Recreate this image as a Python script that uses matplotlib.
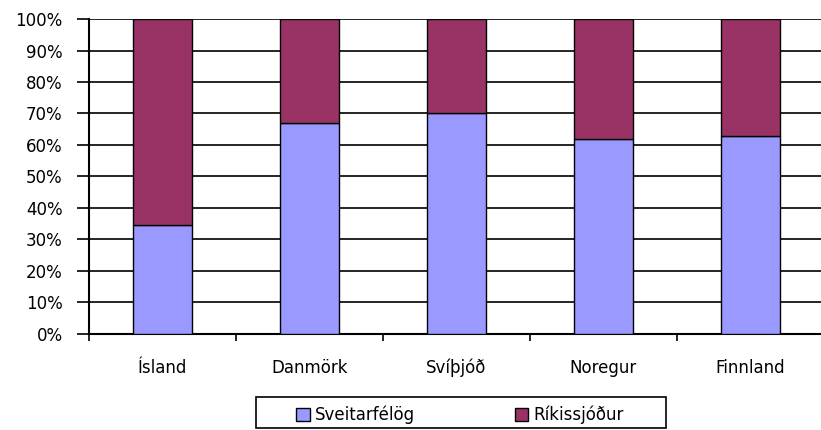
import matplotlib
matplotlib.use("Agg")
import matplotlib.pyplot as plt
from matplotlib.patches import Rectangle
import numpy as np
from matplotlib.ticker import MultipleLocator, FuncFormatter

countries = ["Ísland", "Danmörk", "Svíþjóð", "Noregur", "Finnland"]
sveitarfelog = [34.5, 67, 70, 62, 63]     # %
rikissjodur = [65.5, 33, 30, 38, 37]      # %

BLUE = "#9999ff"
PLUM = "#993366"

plt.rcParams["font.family"] = ["DejaVu Sans"]

fig = plt.figure(figsize=(8.21, 4.30), dpi=100)
ax = fig.add_axes([0.1084, 0.2233, 0.895, 0.7325])

x = np.arange(len(countries))
w = 0.4
ax.bar(x, sveitarfelog, w, color=BLUE, edgecolor="black", lw=1, label="Sveitarfélög", zorder=3)
ax.bar(x, rikissjodur, w, bottom=sveitarfelog, color=PLUM, edgecolor="black", lw=1,
       label="Ríkissjóður", zorder=3)

ax.set_ylim(0, 100)
ax.set_xlim(-0.5, len(countries) - 0.5)
ax.yaxis.set_major_locator(MultipleLocator(10))
ax.yaxis.set_major_formatter(FuncFormatter(lambda v, _: f"{v:.0f}%"))
ax.grid(axis="y", color="black", lw=1.2, zorder=0)
ax.set_xticks(x)
ax.set_xticklabels(countries, va="baseline")
ax.set_xticks(np.arange(len(countries) + 1) - 0.5, minor=True)
ax.tick_params(axis="x", which="major", length=0, pad=28, labelsize=12)
ax.tick_params(axis="x", which="minor", length=5, width=1.2, direction="out")
ax.tick_params(axis="y", length=9, width=1.2, direction="out", pad=10, labelsize=12)
for s in ["top", "right"]:
    ax.spines[s].set_visible(False)
ax.spines["left"].set_linewidth(1.5)
ax.spines["bottom"].set_linewidth(1.5)
fig.canvas.draw()
ax.get_ygridlines()[-1].set_color("#888888")

# legend items, with a plain box drawn round them
leg = fig.legend(loc="center", bbox_to_anchor=(0.5603, 0.0349), ncol=2, frameon=False,
                 fontsize=12, handlelength=0.8, handleheight=0.8, handletextpad=0.3,
                 columnspacing=6.0, borderpad=0.3)
for h in leg.legend_handles:
    h.set_edgecolor("black")
fig.patches.append(Rectangle((256 / 821, 2 / 430), 410 / 821, 31 / 430,
                             transform=fig.transFigure, fill=False,
                             edgecolor="black", lw=1.2))

fig.savefig("out.png", dpi=100)
